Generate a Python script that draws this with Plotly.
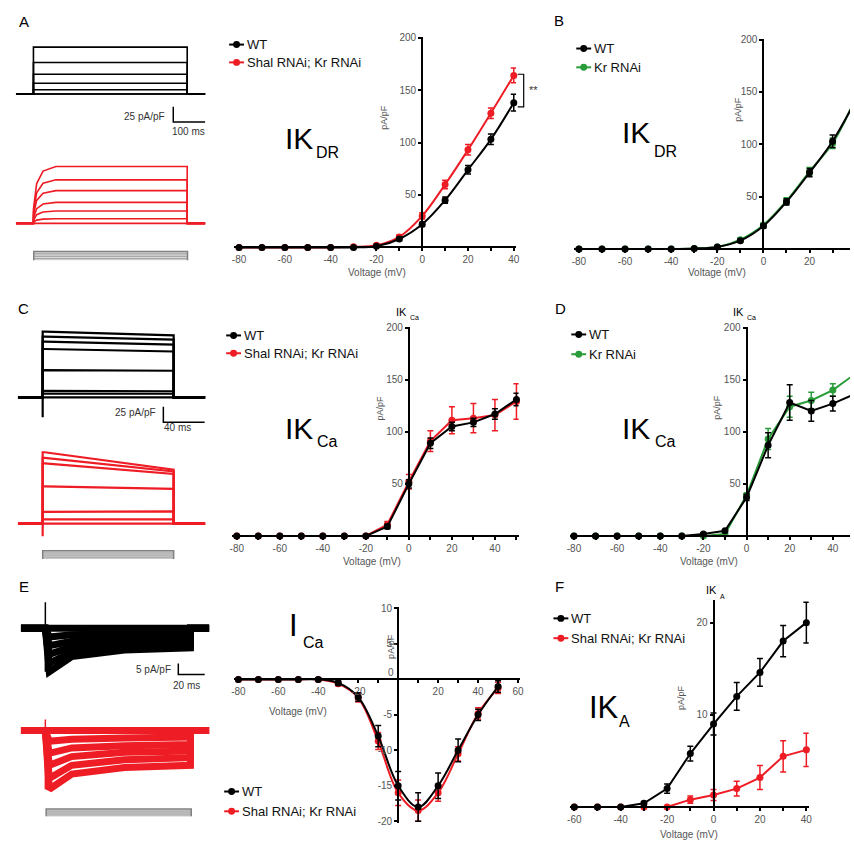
import plotly.graph_objects as go

W, H = 854, 843
FONT = "Liberation Sans, Arial, sans-serif"
BLACK = "#000000"
RED = "#ee1c24"
GREEN = "#2a9d3a"
GREY_TXT = "#555555"
STIM_LINE = "#9a9a9a"
STIM_EDGE = "#808080"
STIM_FILL = "#d9d9d9"

# ---------------- IV data ----------------
V_AB = [-80, -70, -60, -50, -40, -30, -20, -10, 0, 10, 20, 30, 40]
A_wt = [0, 0, 0, 0, 0, 0, 1, 8, 22, 45, 74, 103, 138]
A_wt_err = [0, 0, 0, 0, 0, 0, 0.5, 1.5, 2, 3, 4, 5, 8]
A_ko = [0, 0, 0, 0, 0, 0.5, 2, 10, 30, 60, 93, 128, 164]
A_ko_err = [0, 0, 0, 0, 0, 0.5, 1, 2, 3, 4, 5, 5, 7]

B_wt = [0, 0, 0, 0, 0, 0.5, 2, 8, 22, 45, 73, 103, 142]
B_wt_err = [0, 0, 0, 0, 0, 0.3, 1, 1.5, 2, 3, 4, 6, 8]
B_kr = [0, 0, 0, 0, 0, 0.5, 2, 9, 23, 46, 74, 101, 144]
B_kr_err = [0, 0, 0, 0, 0, 0.3, 1, 1.5, 2, 3, 4, 5, 8]

V_CDE = [-80, -70, -60, -50, -40, -30, -20, -10, 0, 10, 20, 30, 40, 50]
C_wt = [0, 0, 0, 0, 0, 0, 0, 9, 50, 89, 105, 109, 117, 131]
C_wt_err = [0, 0, 0, 0, 0, 0, 0, 2, 4, 5, 4, 4, 5, 6]
C_ko = [0, 0, 0, 0, 0, 0, 0, 11, 52, 91, 111, 113, 116, 129]
C_ko_err = [0, 0, 0, 0, 0, 0, 0, 3, 7, 10, 13, 14, 15, 17]

D_wt = [0, 0, 0, 0, 0, 0, 2, 5, 37, 87, 128, 120, 127, 136]
D_wt_err = [0, 0, 0, 0, 0, 0, 1, 1, 3, 12, 17, 10, 7, 8]
D_kr = [0, 0, 0, 0, 0, 0, 0, 2, 39, 93, 124, 130, 140, 155]
D_kr_err = [0, 0, 0, 0, 0, 0, 1, 1, 2, 10, 10, 8, 6, 8]

E_wt = [0, 0, 0, 0, 0, -0.5, -2.5, -8, -15, -18, -15, -10, -5, -1]
E_wt_err = [0, 0, 0, 0, 0.2, 0.3, 0.6, 1.5, 2, 2, 1.8, 1.6, 0.8, 0.8]
E_ko = [0, 0, 0, 0, 0, -0.6, -2.6, -8.7, -16, -18.5, -16, -10.5, -4.8, -1.2]
E_ko_err = [0, 0, 0, 0, 0.2, 0.3, 0.6, 1.2, 1.8, 1.5, 1.2, 1.0, 0.8, 0.8]

V_F = [-60, -50, -40, -30, -20, -10, 0, 10, 20, 30, 40]
F_wt = [0, 0, 0, 0.4, 2, 5.8, 9, 12, 14.6, 18, 20]
F_wt_err = [0, 0, 0, 0.2, 0.5, 0.8, 1.2, 1.5, 1.5, 1.7, 2.2]
F_ko = [0, 0, 0, 0, 0, 0.8, 1.3, 2, 3.2, 5.5, 6.2]
F_ko_err = [0, 0, 0, 0, 0, 0.4, 0.6, 0.8, 1.3, 1.7, 1.8]

# ---------------- current trace data ----------------
A_dur = 480
A_wt_levels = [76, 51, 32, 17.6, 7, 1, 0]
A_ko_levels = [92, 70.5, 53, 34, 20, 7.5, 0]
A_rise_t = [0, 10, 30, 70]
A_rise_frac = [0.25, 0.7, 0.92, 1.0]

C_dur = 127
C_wt_start = [106, 98, 90, 78, 44, 10.7, 6, 0]
C_wt_end = [100, 93, 85, 74, 43, 10, 6, 0]
C_wt_spike = -32
C_ko_start = [115, 106, 97, 60, 19, 7, 0]
C_ko_end = [87, 84, 80, 56, 20, 7, 0]
C_ko_spike = -20

E_dur = 110
E_tp = [3, 20, 60, 110]
E_wt_tr = [[-20, -13, -10, -9], [-16, -11, -8.5, -7.5], [-12, -8.5, -6.5, -6],
           [-8, -6, -4.5, -4], [-4, -3, -2.5, -2], [0, 0, 0, 0]]
E_ko_tr = [[-27, -20, -17, -16], [-22, -16, -13.5, -12.5], [-16, -12, -10, -9.5],
           [-10.5, -8, -7, -6.5], [-5, -4, -3.5, -3], [0, 0, 0, 0]]
E_wt_spike = 12
E_ko_spike = 5

HOLD = -80
STEPS = [-60, -40, -20, 0, 20, 40]

fig = go.Figure()
L = dict()
annotations = []
shapes = []


def xn(n):
    return "x" if n == 1 else f"x{n}"


def yn(n):
    return "y" if n == 1 else f"y{n}"


def xk(n):
    return "xaxis" if n == 1 else f"xaxis{n}"


def yk(n):
    return "yaxis" if n == 1 else f"yaxis{n}"


def txt(s, x, y, size, xanchor="center", color=BLACK, angle=0):
    annotations.append(dict(text=s, x=x / W, y=1 - y / H, xref="paper", yref="paper",
                            showarrow=False, xanchor=xanchor, yanchor="middle",
                            textangle=angle, font=dict(family=FONT, size=size, color=color)))


def iv_panel(n, xmap, ymap, xr, yr, xt, xtt, yt, ytt):
    xv0, xp0, xv1, xp1 = xmap
    yv0, yp0, yv1, yp1 = ymap
    sx = (xp1 - xp0) / (xv1 - xv0)
    sy = (yp1 - yp0) / (yv1 - yv0)
    X = lambda v: xp0 + (v - xv0) * sx
    Y = lambda v: yp0 + (v - yv0) * sy
    xd = [max(0, X(xr[0]) / W), min(1, X(xr[1]) / W)]
    yd = [max(0, 1 - Y(yr[0]) / H), min(1, 1 - Y(yr[1]) / H)]
    common = dict(showline=True, linecolor="black", linewidth=2, ticks="outside", ticklen=3,
                  tickwidth=1.5, tickcolor="black",
                  tickfont=dict(family=FONT, size=10, color=GREY_TXT),
                  showgrid=False, zeroline=False, fixedrange=True, anchor="free",
                  tickmode="array")
    L[xk(n)] = dict(domain=xd, range=xr, position=1 - Y(0) / H, tickvals=xt, ticktext=xtt, **common)
    L[yk(n)] = dict(domain=yd, range=yr, position=X(0) / W, tickvals=yt, ticktext=ytt, **common)


def series(n, V, Y, E, color, shape):
    fig.add_trace(go.Scatter(
        x=V, y=Y, mode="lines+markers", xaxis=xn(n), yaxis=yn(n),
        line=dict(color=color, width=2, shape=shape),
        marker=dict(color=color, size=7),
        error_y=dict(type="data", array=E, color=color, thickness=1.5, width=3),
        cliponaxis=False, showlegend=False, hoverinfo="skip"))


def trace_panel(n, xdom, ydom, onset, ppm, base, ppu):
    xr = [(xdom[0] - onset) / ppm, (xdom[1] - onset) / ppm]
    yr = [(base - ydom[1]) / ppu, (base - ydom[0]) / ppu]
    L[xk(n)] = dict(domain=[xdom[0] / W, xdom[1] / W], range=xr, visible=False,
                    fixedrange=True, anchor=yn(n))
    L[yk(n)] = dict(domain=[1 - ydom[1] / H, 1 - ydom[0] / H], range=yr, visible=False,
                    fixedrange=True, anchor=xn(n))
    return xr


def line(n, x, y, color, width):
    fig.add_trace(go.Scatter(x=x, y=y, mode="lines", xaxis=xn(n), yaxis=yn(n),
                             line=dict(color=color, width=width), showlegend=False,
                             hoverinfo="skip"))


def stim(n, dur, xr):
    t0, t1 = xr
    top = max(STEPS)
    fig.add_trace(go.Scatter(x=[0, 0, dur, dur], y=[HOLD, top, top, HOLD],
                             fill="toself", fillcolor=STIM_FILL, mode="lines",
                             line=dict(width=0, color=STIM_FILL), xaxis=xn(n), yaxis=yn(n),
                             showlegend=False, hoverinfo="skip"))
    for v in STEPS[:-1]:
        line(n, [0, dur], [v, v], STIM_LINE, 1)
    line(n, [t0, 0, 0, dur, dur, t1], [HOLD, HOLD, top, top, HOLD, HOLD], STIM_EDGE, 1.5)


def legend(x0, y, color, label):
    shapes.append(dict(type="line", xref="paper", yref="paper", x0=x0 / W, x1=(x0 + 15) / W,
                       y0=1 - y / H, y1=1 - y / H, line=dict(color=color, width=2)))
    r = 3.5
    cx = x0 + 7.5
    shapes.append(dict(type="circle", xref="paper", yref="paper", x0=(cx - r) / W, x1=(cx + r) / W,
                       y0=1 - (y + r) / H, y1=1 - (y - r) / H, fillcolor=color,
                       line=dict(color=color, width=0)))
    txt(label, x0 + 16, y, 13, xanchor="left", color="#111111")


def ticks(vals, labeled):
    return vals, [str(v) if v in labeled else "" for v in vals]


# ---------------- IV panels ----------------
xt, xtt = ticks(list(range(-80, 41, 10)), [-80, -60, -40, -20, 0, 20, 40])
yt, ytt = ticks([0, 50, 100, 150, 200], [50, 100, 150, 200])
iv_panel(1, (-80, 238, 40, 515), (0, 245, 200, 33), [-82, 41], [-1.5, 200.5], xt, xtt, yt, ytt)
series(1, V_AB, A_ko, A_ko_err, RED, "spline")
series(1, V_AB, A_wt, A_wt_err, BLACK, "spline")

iv_panel(2, (-80, 580.7, 0, 766.7), (0, 246.7, 200, 35), [-82, 37.55], [-1.5, 200.5], xt, xtt, yt, ytt)
series(2, V_AB, B_kr, B_kr_err, GREEN, "spline")
series(2, V_AB, B_wt, B_wt_err, BLACK, "spline")

xt2, xtt2 = ticks(list(range(-80, 51, 10)), [-80, -60, -40, -20, 0, 20, 40])
iv_panel(3, (-80, 235.7, 40, 496), (0, 536.7, 200, 326), [-82, 51], [-1.5, 200.5], xt2, xtt2, yt, ytt)
series(3, V_CDE, C_ko, C_ko_err, RED, "linear")
series(3, V_CDE, C_wt, C_wt_err, BLACK, "linear")

iv_panel(4, (-80, 575.7, 40, 836.7), (0, 536.7, 200, 326), [-82, 47.95], [-1.5, 200.5], xt2, xtt2, yt, ytt)
series(4, V_CDE, D_kr, D_kr_err, GREEN, "linear")
series(4, V_CDE, D_wt, D_wt_err, BLACK, "linear")

xt3, xtt3 = ticks(list(range(-80, 61, 10)), [-80, -60, -40, -20, 20, 40, 60])
yt3, ytt3 = ticks([-20, -15, -10, -5, 0, 5, 10], [-20, -15, -10, -5, 5, 10])
iv_panel(5, (-80, 237.3, 60, 519.3), (-20, 825, 10, 610), [-82, 61], [-20.2, 10.2], xt3, xtt3, yt3, ytt3)
series(5, V_CDE, E_ko, E_ko_err, RED, "spline")
series(5, V_CDE, E_wt, E_wt_err, BLACK, "spline")

xt4, xtt4 = ticks(list(range(-60, 41, 10)), [-60, -40, -20, 0, 20, 40])
yt4, ytt4 = ticks([0, 10, 20], [10, 20])
iv_panel(6, (-60, 576, 40, 810), (0, 810.7, 20, 624.3), [-62, 41], [-0.3, 22.5], xt4, xtt4, yt4, ytt4)
series(6, V_F, F_ko, F_ko_err, RED, "linear")
series(6, V_F, F_wt, F_wt_err, BLACK, "linear")

# ---------------- trace panels ----------------
# A
xr = trace_panel(7, (13, 204), (36, 122), 30.7, 0.323, 90, 0.624)
for a in A_wt_levels:
    line(7, [xr[0], 0, 0, A_dur, A_dur, xr[1]], [0, 0, a, a, 0, 0], BLACK, 1.6)
line(7, [436.5, 436.5, 536.5], [-20.4, -45.4, -45.4], BLACK, 1.5)
xr = trace_panel(8, (13, 204), (155, 226), 30.7, 0.323, 220.7, 0.624)
for a in A_ko_levels:
    line(8, [xr[0], 0] + A_rise_t + [A_dur, A_dur, xr[1]],
         [0, 0] + [a * f for f in A_rise_frac] + [a, 0, 0], RED, 1.6)
xr = trace_panel(9, (13, 204), (236, 258), 31, 0.323, 254, (254 - 239.3) / 120)
stim(9, A_dur, xr)

# C
xr = trace_panel(10, (15, 204), (320, 425), 40, 1.04, 396.7, 0.628)
for s, e in zip(C_wt_start, C_wt_end):
    sp = C_wt_spike if s == 0 else 0
    line(10, [xr[0], 0, 0, 0, 2, C_dur, C_dur, xr[1]], [0, 0, sp, s, s, e, 0, 0], BLACK, 2.2)
line(10, [117, 117, 157], [-14.8, -39.8, -39.8], BLACK, 1.5)
xr = trace_panel(11, (15, 204), (445, 540), 40, 1.04, 524.3, 0.628)
for s, e in zip(C_ko_start, C_ko_end):
    sp = C_ko_spike if s == 0 else 0
    line(11, [xr[0], 0, 0, 0, 2, C_dur, C_dur, xr[1]], [0, 0, sp, s, s, e, 0, 0], RED, 2.2)
xr = trace_panel(12, (15, 204), (540, 560), 40, 1.04, 556, 12.7 / 120)
stim(12, C_dur, xr)

# E
xr = trace_panel(13, (18, 208), (598, 685), 42.7, 1.33, 630, 2.2)
for tr in E_wt_tr:
    line(13, [xr[0], 0] + E_tp + [E_dur, xr[1]], [0, 0] + tr + [0, 0], BLACK, 7)
line(13, [0, 0], [E_wt_spike, E_wt_tr[0][0]], BLACK, 1.5)
line(13, [100.8, 100.8, 120.8], [-16.2, -21.2, -21.2], BLACK, 1.5)
xr = trace_panel(14, (18, 208), (712, 800), 42.7, 1.33, 733.3, 2.2)
for tr in E_ko_tr:
    line(14, [xr[0], 0] + E_tp + [E_dur, xr[1]], [0, 0] + tr + [0, 0], RED, 7)
line(14, [0, 0], [E_ko_spike, E_ko_tr[0][0]], RED, 1.5)
xr = trace_panel(15, (18, 208), (800, 820), 43.5, 1.33, 816.7, 11.7 / 120)
stim(15, E_dur, xr)

# ---------------- text ----------------
for s, x, y in [("A", 21, 17), ("B", 561, 16), ("C", 21, 307), ("D", 562, 307), ("E", 21, 588), ("F", 561, 588)]:
    txt(s, x, y, 15)

txt("25 pA/pF", 165, 113, 10, xanchor="right", color="#333333")
txt("100 ms", 187, 128, 10, color="#333333")
txt("25 pA/pF", 156, 412, 10, xanchor="right", color="#333333")
txt("40 ms", 176, 427, 10, color="#333333")
txt("5 pA/pF", 171, 672, 10, xanchor="right", color="#333333")
txt("20 ms", 185, 688, 10, color="#333333")

txt("IK", 282, 135, 30, xanchor="left")
txt("DR", 314, 149, 16, xanchor="left")
txt("IK", 622, 129, 30, xanchor="left")
txt("DR", 654, 148, 16, xanchor="left")
txt("IK", 282, 428, 30, xanchor="left")
txt("Ca", 315, 441, 16, xanchor="left")
txt("IK", 622, 428, 30, xanchor="left")
txt("Ca", 655, 441, 16, xanchor="left")
txt("I", 286, 627, 31, xanchor="left")
txt("Ca", 300, 644, 16, xanchor="left")
txt("IK", 589, 710, 31, xanchor="left")
txt("A", 619, 724, 16, xanchor="left")

txt("IK", 402, 310, 11)
txt("Ca", 415, 316, 7)
txt("IK", 742, 310, 11)
txt("Ca", 755, 316, 7)
txt("IK", 714, 591, 11)
txt("A", 725, 598, 7)

for x, y in [(377, 270), (720, 270), (372, 562), (712, 562), (297, 714), (692, 838)]:
    txt("Voltage (mV)", x, y, 10, color=GREY_TXT)
for x, y in [(384, 113), (741, 105), (380, 407), (720, 407), (391, 648), (683, 700)]:
    txt("pA/pF", x, y, 9, color=GREY_TXT, angle=-90)
txt("0", 391, 675, 10, color=GREY_TXT)

shapes.append(dict(type="path", xref="paper", yref="paper",
                   path=f"M {519/W},{1-70/H} L {525/W},{1-70/H} L {525/W},{1-103/H} L {519/W},{1-103/H}",
                   line=dict(color=BLACK, width=1.2)))
txt("**", 528, 86, 11, xanchor="left", color="#333333")

legend(228, 40, BLACK, "WT")
legend(228, 58, RED, "Shal RNAi; Kr RNAi")
legend(578, 44, BLACK, "WT")
legend(578, 63, GREEN, "Kr RNAi")
legend(225, 334, BLACK, "WT")
legend(225, 352, RED, "Shal RNAi; Kr RNAi")
legend(573, 333, BLACK, "WT")
legend(573, 353, GREEN, "Kr RNAi")
legend(223, 795, BLACK, "WT")
legend(223, 815, RED, "Shal RNAi; Kr RNAi")
legend(555, 620, BLACK, "WT")
legend(555, 640, RED, "Shal RNAi; Kr RNAi")

fig.update_layout(
    width=W, height=H, margin=dict(l=0, r=0, t=0, b=0),
    paper_bgcolor="white", plot_bgcolor="rgba(0,0,0,0)",
    showlegend=False, annotations=annotations, shapes=shapes,
    font=dict(family=FONT), **L)

fig.write_html("out.html")
